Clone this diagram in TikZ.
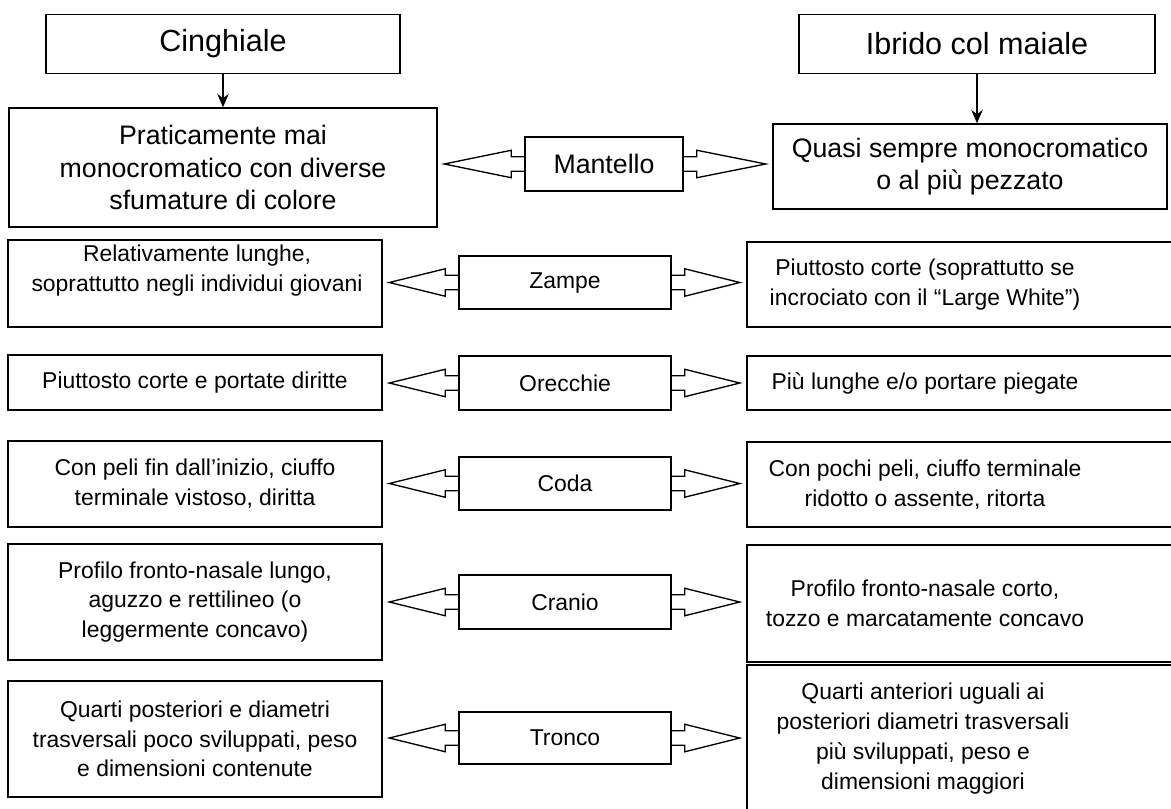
\documentclass[tikz,border=0pt]{standalone}
\usepackage{fontspec}
\setmainfont{Liberation Sans}
\usepackage{tikz}
\usetikzlibrary{arrows.meta}
\usetikzlibrary{calc}
\newcommand{\pxu}{0.524pt}
\tikzset{hd/.style={font=\fontsize{16}{19}\selectfont}}
\tikzset{tx/.style={font=\fontsize{14}{16.8}\selectfont}}
\tikzset{ts/.style={font=\fontsize{12}{15.6}\selectfont}}
\tikzset{bx/.style 2 args={draw,line width=.8pt,align=center,inner sep=0pt,minimum width=#1*\pxu,minimum height=#2*\pxu}}
\tikzset{fat/.style={draw,line width=.7pt,line join=miter,to path={let \p1=(\tikztostart),\p2=(\tikztotarget),\p3=(\x2,\y1),
  \p4=($(\p1)!6.8pt!(\p3)$),\p5=($(\p3)!3.4pt!(\p1)$) in
  (\x1,\y1+3.8pt) -- (\x4,\y4+3.8pt) -- (\x4,\y4+7.2pt) -- (\p5) -- (\x4,\y4-7.2pt) -- (\x4,\y4-3.8pt) -- (\x1,\y1-3.8pt)}}}

\begin{document}
\begin{tikzpicture}[x=\pxu,y=-\pxu]
\useasboundingbox (0,0) rectangle (1171,808);
% titles
\node[bx={354}{59},hd] (wild) at (223,44) {Cinghiale};
\node[bx={356}{59},hd] (hyb) at (977,44) {Ibrido col maiale};
% wild boar column
\node[bx={428}{119},tx] (w1) at (223,167.5) {Praticamente mai\\monocromatico con diverse\\sfumature di colore};
\node[bx={374}{87}] (w2) at (195,283.5) {};
\node[ts,align=center] (w2t) at ($(w2)+(2,-13)$) {Relativamente lunghe,\\soprattutto negli individui giovani};
\node[bx={374}{55},ts] (w3) at (195,382.5) {Piuttosto corte e portate diritte};
\node[bx={374}{86},ts] (w4) at (195,484) {Con peli fin dall’inizio, ciuffo\\terminale vistoso, diritta};
\node[bx={374}{116},ts] (w5) at (195,602) {Profilo fronto-nasale lungo,\\aguzzo e rettilineo (o\\leggermente concavo)};
\node[bx={374}{116},ts] (w6) at (195,739) {Quarti posteriori e diametri\\trasversali poco sviluppati, peso\\e dimensioni contenute};
% hybrid column
\node[bx={394}{85},tx] (h1) at (970,166.5) {Quasi sempre monocromatico\\o al più pezzato};
\node[bx={428}{85}] (h2) at (961,284.5) {};
\node[bx={428}{54}] (h3) at (961,383) {};
\node[bx={428}{85}] (h4) at (961,484.5) {};
\node[bx={428}{117}] (h5) at (961,603.5) {};
\node[bx={428}{147}] (h6) at (961,738.5) {};
\node[ts,align=center] (h2t) at ($(h2)+(-36,0)$) {Piuttosto corte (soprattutto se\\incrociato con il “Large White”)};
\node[ts,align=center] (h3t) at ($(h3)+(-36,0)$) {Più lunghe e/o portare piegate};
\node[ts,align=center] (h4t) at ($(h4)+(-36,0)$) {Con pochi peli, ciuffo terminale\\ridotto o assente, ritorta};
\node[ts,align=center] (h5t) at ($(h5)+(-36,0)$) {Profilo fronto-nasale corto,\\tozzo e marcatamente concavo};
\node[ts,align=center] (h6t) at ($(h6)+(-38,0)$) {Quarti anteriori uguali ai\\posteriori diametri trasversali\\più sviluppati, peso e\\dimensioni maggiori};
% traits
\node[bx={158}{54},tx] (mantello) at (604,164) {Mantello};
\node[bx={212}{53},ts] (zampe) at (565,282.5) {Zampe};
\node[bx={212}{54},ts] (orecchie) at (565,383) {Orecchie};
\node[bx={212}{53},ts] (coda) at (565,483.5) {Coda};
\node[bx={212}{54},ts] (cranio) at (565,602) {Cranio};
\node[bx={212}{52},ts] (tronco) at (565,738) {Tronco};

\draw[-{Stealth[length=7pt,width=6pt]},line width=.8pt] (wild) -- (w1);
\draw[-{Stealth[length=7pt,width=6pt]},line width=.8pt] (hyb.south) -- (hyb.south |- h1.north);

\draw[fat] (mantello.west) to (w1.east);
\draw[fat] (mantello.east) to (h1.west);
\draw[fat] (zampe.west) to (w2.east);
\draw[fat] (zampe.east) to (h2.west);
\draw[fat] (orecchie.west) to (w3.east);
\draw[fat] (orecchie.east) to (h3.west);
\draw[fat] (coda.west) to (w4.east);
\draw[fat] (coda.east) to (h4.west);
\draw[fat] (cranio.west) to (w5.east);
\draw[fat] (cranio.east) to (h5.west);
\draw[fat] (tronco.west) to (w6.east);
\draw[fat] (tronco.east) to (h6.west);
\end{tikzpicture}
\end{document}
